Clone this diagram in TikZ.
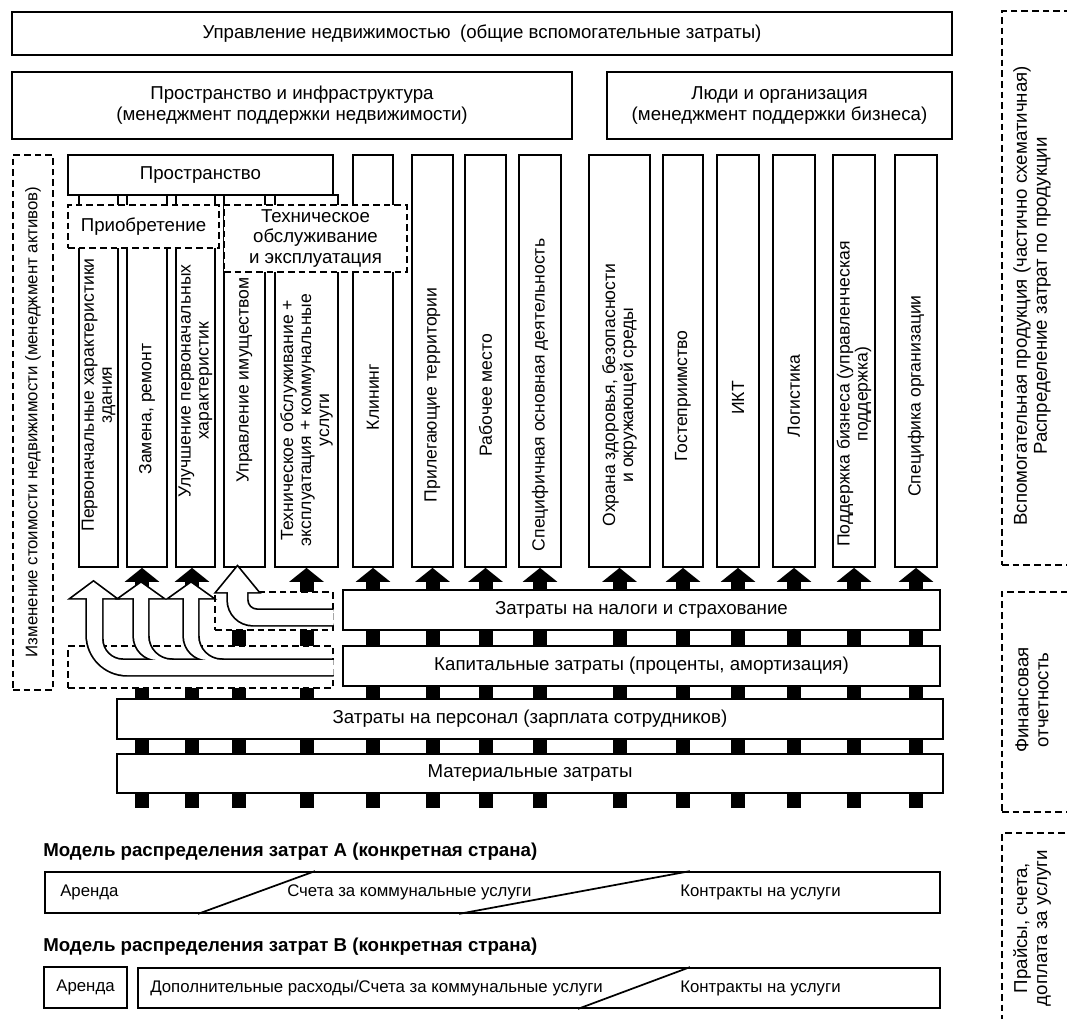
\documentclass[tikz,border=0pt]{standalone}
\usepackage{tikz}
\usetikzlibrary{arrows.meta}
\usepackage{fontspec}
\setmainfont{Liberation Sans}
\pgfdeclarelayer{bg}
\pgfsetlayers{bg,main}
\newcommand\fs{\fontsize{14}{15.5}\selectfont}
\newcommand\fv{\fontsize{13.2}{13.5}\selectfont}
\newcommand\fr{\fontsize{14}{15}\selectfont}
\newcommand\bnode[7]{\pgfmathsetmacro\mybw{(#5-#3)*0.75}\pgfmathsetmacro\mybh{(#6-#4)*0.75}\node[#2,minimum width=\mybw pt,minimum height=\mybh pt] (#1) at ({(#3+#5)/2},{(#4+#6)/2}) {#7};}
\newcommand\wshapes[1]{%
  \path[#1] (87,594) -- (87,635) .. controls (87,657) and (105,675) .. (127,675) -- (345,675) -- (345,660) -- (123,660) .. controls (111.4,660) and (102,650.6) .. (102,639) -- (102,594) -- cycle;
  \path[#1] (134,594) -- (134,636) .. controls (134,649.3) and (144.7,660) .. (158,660) -- (158,667) -- (172,667) -- (172,660) .. controls (158.7,660) and (148,649.3) .. (148,636) -- (148,594) -- cycle;
  \path[#1] (184,594) -- (184,636) .. controls (184,649.3) and (194.7,660) .. (208,660) -- (208,667) -- (222,667) -- (222,660) .. controls (208.7,660) and (198,649.3) .. (198,636) -- (198,594) -- cycle;
  \path[#1] (72,598) -- (93.5,582) -- (115,598) -- cycle;
  \path[#1] (120,598) -- (141,583) -- (162,598) -- cycle;
  \path[#1] (170,598) -- (191,583) -- (212,598) -- cycle;
  \path[#1] (228,588) -- (228,600) .. controls (228,613.8) and (239.2,625) .. (253,625) -- (345,625) -- (345,610) -- (257,610) .. controls (251.5,610) and (247,605.5) .. (247,600) -- (247,588) -- cycle;
  \path[#1] (217,592) -- (237.5,567) -- (258,592) -- cycle;
}
\begin{document}
\begin{tikzpicture}[x=0.75pt,y=-0.75pt,
  bx/.style={draw,line width=1.3pt,fill=white,inner sep=0pt},
  dbx/.style={draw,line width=1.1pt,dash pattern=on 5pt off 3pt,fill=white,inner sep=0pt},
  dbo/.style={draw,line width=1.1pt,dash pattern=on 5pt off 3pt,inner sep=0pt},
  lbl/.style={font=\fs,align=center},
  vlbl/.style={font=\fv,align=center,inner sep=0pt,rotate=90},
  rlbl/.style={font=\fr,align=center,inner sep=0pt,rotate=90},
  mtx/.style={font=\fontsize{12.6}{14}\selectfont,anchor=west,inner sep=0pt},
  hd/.style={font=\fontsize{14}{16}\selectfont\bfseries,anchor=west,inner sep=0pt},
  conn/.style={line width=10.5pt,-{Triangle[width=25.5pt,length=10.5pt]}},
  blk/.style={fill=black},
  diag/.style={line width=1.3pt}
]
\useasboundingbox (0,0) rectangle (1067,1019);
\clip (0,0) rectangle (1067,1019);

% header boxes
\bnode{top}{bx,lbl}{12}{12}{952}{55}{Управление недвижимостью\enspace(общие вспомогательные затраты)}
\bnode{space}{bx,lbl}{12}{72}{572}{139}{Пространство и инфраструктура\\(менеджмент поддержки недвижимости)}
\bnode{people}{bx,lbl}{607}{72}{952}{139}{Люди и организация\\(менеджмент поддержки бизнеса)}

% right dashed boxes
\bnode{rb1}{dbo}{1002}{11}{1090}{565}{}
\bnode{rb2}{dbo}{1002}{592}{1090}{812}{}
\bnode{rb3}{dbo}{1002}{833}{1090}{1040}{}
\node[rlbl] (tr1) at (1032,296) {Вспомогательная продукция (частично схематичная)\\Распределение затрат по продукции};
\node[rlbl] (tr2) at (1032,700) {Финансовая\\отчетность};
\node[rlbl] (tr3) at (1032,928) {Прайсы, счета,\\доплата за услуги};

% left dashed box
\bnode{assets}{dbo}{13}{155}{53}{690}{}
\node[vlbl,font=\fontsize{12.6}{13.5}\selectfont] (tassets) at (33,422) {Изменение стоимости недвижимости (менеджмент активов)};

% columns
\bnode{c1}{bx}{79}{195}{118}{567}{}
\bnode{c2}{bx}{127}{195}{167}{567}{}
\bnode{c3}{bx}{176}{195}{215}{567}{}
\bnode{c4}{bx}{224}{195}{265}{567}{}
\bnode{c5}{bx}{275}{195}{338}{567}{}
\bnode{c6}{bx}{353}{155}{393}{567}{}
\bnode{c7}{bx}{412}{155}{453}{567}{}
\bnode{c8}{bx}{465}{155}{506}{567}{}
\bnode{c9}{bx}{519}{155}{561}{567}{}
\bnode{c10}{bx}{589}{155}{650}{567}{}
\bnode{c11}{bx}{663}{155}{703}{567}{}
\bnode{c12}{bx}{717}{155}{759}{567}{}
\bnode{c13}{bx}{773}{155}{815}{567}{}
\bnode{c14}{bx}{833}{155}{875}{567}{}
\bnode{c15}{bx}{895}{155}{937}{567}{}

\bnode{prost}{bx,lbl}{68}{155}{333}{195}{Пространство}
\bnode{acq}{dbx,lbl}{68}{205}{219}{248}{Приобретение}
\bnode{tech}{dbx,lbl}{224}{205}{407}{272}{Техническое\\обслуживание\\и эксплуатация}

% column labels
\node[vlbl] (t1) at (98.5,395) {Первоначальные характеристики\\здания};
\node[vlbl] (t2) at (147,409) {Замена, ремонт};
\node[vlbl] (t3) at (195.5,381) {Улучшение первоначальных\\характеристик};
\node[vlbl] (t4) at (244.5,380) {Управление имуществом};
\node[vlbl] (t5) at (306.5,420) {Техническое обслуживание +\\эксплуатация + коммунальные\\услуги};
\node[vlbl] (t6) at (373,397) {Клининг};
\node[vlbl] (t7) at (432.5,395) {Прилегающие территории};
\node[vlbl] (t8) at (485.5,395) {Рабочее место};
\node[vlbl] (t9) at (540,395) {Специфичная основная деятельность};
\node[vlbl] (t10) at (619.5,395) {Охрана здоровья, безопасности\\и окружающей среды};
\node[vlbl] (t11) at (683,396) {Гостеприимство};
\node[vlbl] (t12) at (738,398) {ИКТ};
\node[vlbl] (t13) at (794,396) {Логистика};
\node[vlbl] (t14) at (854,394) {Поддержка бизнеса (управленческая\\поддержка)};
\node[vlbl] (t15) at (916,396) {Специфика организации};

% cost bars
\bnode{tax}{bx,lbl}{343}{590}{940}{630}{Затраты на налоги и страхование}
\bnode{cap}{bx,lbl}{343}{646}{940}{686}{Капитальные затраты (проценты, амортизация)}
\bnode{pers}{bx,lbl}{117}{699}{943}{739}{Затраты на персонал (зарплата сотрудников)}
\bnode{mat}{bx,lbl}{117}{754}{943}{793}{Материальные затраты}
\bnode{taxd}{dbx}{215}{592}{333}{630}{}
\bnode{capd}{dbx}{68}{646}{333}{688}{}

% black connectors (behind)
\begin{pgfonlayer}{bg}
  \draw[conn] (142,598) -- (c2.south -| 142,0);
  \draw[conn] (192,598) -- (c3.south -| 192,0);
  \fill[blk] (135,688) rectangle (149,808);
  \fill[blk] (185,688) rectangle (199,808);
  \fill[blk] (231.5,600) rectangle (245.5,808);
  \foreach \c in {c5,c6,c7,c8,c9,c10,c11,c12,c13,c14,c15}
    \draw[conn] (\c.south |- 0,808) -- (\c.south);
\end{pgfonlayer}

% white arrows (union outline)
\begin{scope}
  \clip (0,0) rectangle (333.5,1019);
  \wshapes{draw,line width=2.6pt}
  \wshapes{fill=white}
\end{scope}

% models
\node[hd] (hA) at (43,852) {Модель распределения затрат А (конкретная страна)};
\bnode{mA}{bx}{45}{872}{940}{913}{}
\draw[diag] (mA.south -| 198,0) -- (mA.north -| 315,0);
\draw[diag] (mA.south -| 459,0) -- (mA.north -| 690,0);
\node[mtx] (mA1) at (60,892) {Аренда};
\node[mtx] (mA2) at (287,892) {Счета за коммунальные услуги};
\node[mtx] (mA3) at (680,892) {Контракты на услуги};

\node[hd] (hB) at (43,947) {Модель распределения затрат В (конкретная страна)};
\bnode{mB1}{bx,font=\fontsize{12.6}{14}\selectfont}{44}{967}{127}{1008}{Аренда}
\bnode{mB2}{bx}{138}{968}{940}{1008}{}
\draw[diag] (mB2.south -| 578,0) -- (mB2.north -| 690,0);
\node[mtx] (mB3) at (150,988) {Дополнительные расходы/Счета за коммунальные услуги};
\node[mtx] (mB4) at (680,988) {Контракты на услуги};
\end{tikzpicture}
\end{document}
